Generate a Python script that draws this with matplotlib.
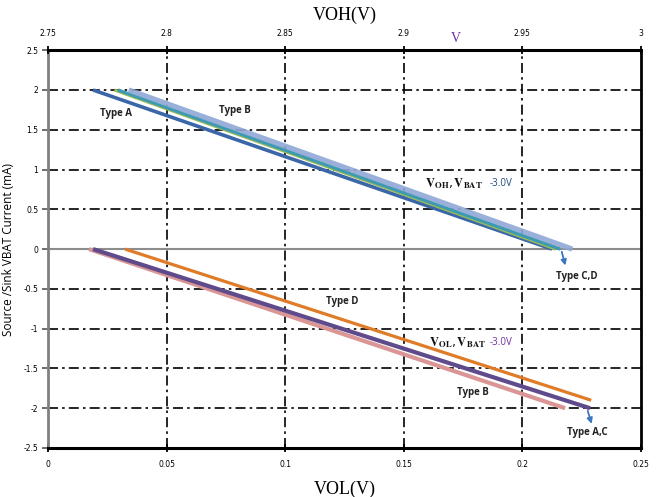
import matplotlib
matplotlib.use("Agg")
import matplotlib.pyplot as plt

plt.rcParams["mathtext.fontset"] = "stix"

# VOH (top axis) series: voltage vs current
voh_current = [2.0, 0.0]
voh_type_a = [2.769, 2.9625]
voh_type_b = [2.778, 2.964]
voh_type_c = [2.7795, 2.966]
voh_type_d = [2.784, 2.971]

# VOL (bottom axis) series
vol_type_b = [0.0173, 0.218]
vol_type_b_cur = [0.0, -2.0]
vol_type_a = [0.019, 0.2285]
vol_type_a_cur = [0.0, -2.0]
vol_type_c = [0.0195, 0.2285]
vol_type_c_cur = [0.0, -2.0]
vol_type_d = [0.0325, 0.229]
vol_type_d_cur = [0.0, -1.9]

x_bottom_ticks = [0, 0.05, 0.1, 0.15, 0.2, 0.25]
x_bottom_labels = ["0", "0.05", "0.1", "0.15", "0.2", "0.25"]
x_top_ticks = [2.75, 2.8, 2.85, 2.9, 2.95, 3.0]
x_top_labels = ["2.75", "2.8", "2.85", "2.9", "2.95", "3"]
y_ticks = [2.5, 2, 1.5, 1, 0.5, 0, -0.5, -1, -1.5, -2, -2.5]
y_labels = ["2.5", "2", "1.5", "1", "0.5", "0", "-0.5", "-1", "-1.5", "-2", "-2.5"]

fig = plt.figure(figsize=(6.66, 4.97), dpi=100)
ax = fig.add_axes([0.072, 0.0986, 0.8905, 0.8004])
ax.set_xlim(0, 0.25)
ax.set_ylim(-2.5, 2.5)

tick_font = dict(family=["Liberation Sans Narrow", "DejaVu Sans"], size=5.5)

# grid
dash = (0, (6, 2.5, 1.5, 2.5))
for yv in y_ticks:
    if yv in (2.5, -2.5):
        continue
    if yv == 0:
        ax.axhline(0, color="#8c8c8c", lw=1.5, zorder=1)
    else:
        ax.axhline(yv, color="black", lw=1.2, linestyle=dash, zorder=1)
for xv in x_bottom_ticks[1:-1]:
    ax.axvline(xv, color="black", lw=1.2, linestyle=dash, zorder=1)

ax.set_xticks(x_bottom_ticks)
ax.set_xticklabels(x_bottom_labels, **tick_font)
ax.set_yticks(y_ticks)
ax.set_yticklabels(y_labels, **tick_font)
ax.tick_params(axis="x", direction="inout", length=6, width=1.3, pad=6, color="black")
ax.tick_params(axis="y", direction="out", length=4, width=1.2, pad=3, color="#555555")

ax.spines["bottom"].set_linewidth(2.2)
ax.spines["bottom"].set_color("black")
ax.spines["left"].set_linewidth(2.0)
ax.spines["left"].set_color("#808080")
ax.spines["right"].set_linewidth(2.0)
ax.spines["right"].set_color("black")

# VOL lines
ax.plot(vol_type_b, vol_type_b_cur, color="#D99694", lw=3.0, solid_capstyle="butt", zorder=3)
ax.plot(vol_type_c, vol_type_c_cur, color="#C0504D", lw=1.5, solid_capstyle="butt", zorder=3)
ax.plot(vol_type_a, vol_type_a_cur, color="#5F4B8B", lw=3.0, solid_capstyle="butt", zorder=4)
ax.plot(vol_type_d, vol_type_d_cur, color="#E07B28", lw=2.3, solid_capstyle="butt", zorder=4)

ax.set_xlabel("VOL(V)", family=["Liberation Serif"], size=13, labelpad=8)
ax.set_ylabel("Source /Sink VBAT Current (mA)", family=["Open Sans", "DejaVu Sans"], size=8.5, labelpad=6)

# top axis
ax2 = ax.twiny()
ax2.set_xlim(2.75, 3.0)
ax2.set_xticks(x_top_ticks)
ax2.set_xticklabels(x_top_labels, **tick_font)
ax2.tick_params(axis="x", direction="inout", length=6, width=1.3, pad=6, color="black")
ax2.spines["top"].set_linewidth(2.2)
ax2.spines["top"].set_color("black")
for s in ["left", "right", "bottom"]:
    ax2.spines[s].set_visible(False)
ax2.set_xlabel("VOH(V)", family=["Liberation Serif"], size=13, labelpad=6)

ax2.plot(voh_type_a, voh_current, color="#3B67A9", lw=2.6, solid_capstyle="butt", zorder=3)
ax2.plot(voh_type_b, voh_current, color="#9BBB59", lw=2.2, solid_capstyle="butt", zorder=3)
ax2.plot(voh_type_c, voh_current, color="#3C9BB0", lw=2.4, solid_capstyle="butt", zorder=3)
ax2.plot(voh_type_d, voh_current, color="#8FA8D6", lw=3.8, solid_capstyle="butt", alpha=0.9, zorder=3)

# annotations
lab = dict(family=["Open Sans", "DejaVu Sans"], size=7, weight="bold", color="#222222")
ax.text(0.0287, 1.7, "Type A", ha="center", va="center", **lab)
ax.text(0.079, 1.74, "Type B", ha="center", va="center", **lab)
ax.text(0.223, -0.34, "Type C,D", ha="center", va="center", **lab)
ax.text(0.124, -0.66, "Type D", ha="center", va="center", **lab)
ax.text(0.179, -1.80, "Type B", ha="center", va="center", **lab)
ax.text(0.2272, -2.31, "Type A,C", ha="center", va="center", **lab)

ax.text(0.159, 0.82, r"$\mathbf{V_{OH}}$,$\,\mathbf{V_{BAT}}$", ha="left", va="center",
        size=9, color="#111111")
ax.text(0.1862, 0.82, "-3.0V", ha="left", va="center",
        family=["Open Sans", "DejaVu Sans"], size=7, color="#1F497D")
ax.text(0.1606, -1.17, r"$\mathbf{V_{OL}}$,$\,\mathbf{V_{BAT}}$", ha="left", va="center",
        size=9, color="#111111")
ax.text(0.1862, -1.17, "-3.0V", ha="left", va="center",
        family=["Open Sans", "DejaVu Sans"], size=7, color="#7030A0")

ax.text(0.172, 2.56, "V", ha="center", va="bottom", family=["Liberation Serif"], size=10, color="#7030A0")

# arrows
ax.annotate("", xy=(0.2184, -0.24), xytext=(0.2163, 0.0),
            arrowprops=dict(arrowstyle="-|>", color="#3C75C0", lw=1.3, mutation_scale=8))
ax.annotate("", xy=(0.2295, -2.23), xytext=(0.2272, -2.0),
            arrowprops=dict(arrowstyle="-|>", color="#3C75C0", lw=1.3, mutation_scale=8))

fig.savefig("out.png", dpi=100)
